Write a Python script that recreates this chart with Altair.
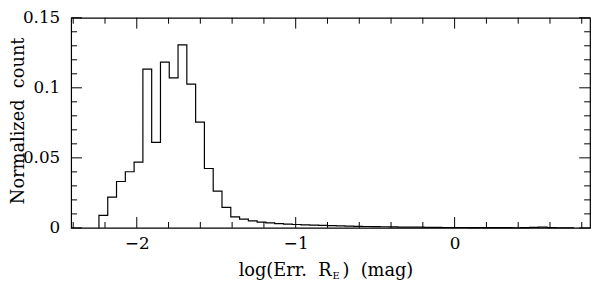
import altair as alt
import pandas as pd

# ---- data ----
bin_start = -2.238
bin_width = 0.0553
counts = [0.0089, 0.0219, 0.0331, 0.0401, 0.0470, 0.1133, 0.0611, 0.1183,
          0.1071, 0.1306, 0.1026, 0.0755, 0.0424, 0.0262, 0.0146, 0.0078,
          0.0062, 0.0050, 0.0041, 0.0036, 0.0030, 0.0027, 0.0024, 0.0022,
          0.0020, 0.0018, 0.0016, 0.0014, 0.0012, 0.0011, 0.0010, 0.0009,
          0.0008, 0.0007, 0.0006, 0.0005, 0.0005, 0.0004, 0.0004, 0.0003,
          0.0003, 0.0003, 0.0002, 0.0002, 0.0002, 0.0002, 0.0002, 0.0001,
          0.0002, 0.0004, 0.0005, 0.0002, 0.0001, 0.0001]
x_major = [-2, -1, 0]
x_minor = [-2.4, -2.2, -1.8, -1.6, -1.4, -1.2, -0.8, -0.6, -0.4, -0.2,
           0.2, 0.4, 0.6, 0.8]
y_major = [0, 0.05, 0.1, 0.15]
y_labels = ["0", "0.05", "0.1", "0.15"]
y_minor = [0.01, 0.02, 0.03, 0.04, 0.06, 0.07, 0.08, 0.09, 0.11, 0.12,
           0.13, 0.14]
x_title_parts = ["log(Err.\u00a0\u00a0R", "E", ")\u00a0\u00a0(mag)"]
y_title = "Normalized\u00a0\u00a0count"

FONT = "DejaVu Serif"
W, H = 526, 213
PAD_TOP = 8

edges = [bin_start + i * bin_width for i in range(len(counts) + 1)]
hist = pd.DataFrame({
    "x": [edges[0]] + edges[:-1] + [edges[-1]],
    "y": [0.0] + counts + [0.0],
})
hist["o"] = range(len(hist))

xscale = alt.Scale(domain=[-2.413, 0.852], nice=False, zero=False)
yscale = alt.Scale(domain=[0, 0.15], nice=False)

xaxis = alt.Axis(
    values=x_major, format="~g", ticks=False, domain=False, grid=False,
    labelFont=FONT, labelFontSize=17, labelColor="black",
    labelPadding=8, title=None)

line = alt.Chart(hist).mark_line(
    interpolate="step-after", color="black", strokeWidth=1.2
).encode(
    x=alt.X("x:Q", scale=xscale, axis=xaxis),
    y=alt.Y("y:Q", scale=yscale, axis=None),
    order="o:Q",
)


def xticks(vals, length):
    d = pd.DataFrame({"v": vals})
    bot = alt.Chart(d).mark_rule(color="black", strokeWidth=1).encode(
        x=alt.X("v:Q", scale=xscale, axis=xaxis),
        y=alt.value(H), y2=alt.value(H - length))
    top = alt.Chart(d).mark_rule(color="black", strokeWidth=1).encode(
        x=alt.X("v:Q", scale=xscale, axis=xaxis),
        y=alt.value(0), y2=alt.value(length))
    return [bot, top]


def yticks(vals, length):
    d = pd.DataFrame({"v": vals})
    left = alt.Chart(d).mark_rule(color="black", strokeWidth=1).encode(
        y=alt.Y("v:Q", scale=yscale, axis=None),
        x=alt.value(0), x2=alt.value(length))
    right = alt.Chart(d).mark_rule(color="black", strokeWidth=1).encode(
        y=alt.Y("v:Q", scale=yscale, axis=None),
        x=alt.value(W), x2=alt.value(W - length))
    return [left, right]


ylab_df = pd.DataFrame({"v": y_major, "t": y_labels})
ylabels = alt.Chart(ylab_df).mark_text(
    align="right", baseline="middle", font=FONT, fontSize=17, color="black"
).encode(y=alt.Y("v:Q", scale=yscale, axis=None), x=alt.value(-11),
         text="t:N")

ytdf = pd.DataFrame({"t": [y_title]})
ytitle = alt.Chart(ytdf).mark_text(
    align="center", baseline="top", angle=270, font=FONT, fontSize=18,
    color="black"
).encode(x=alt.value(-62), y=alt.value(H / 2 - 2), text="t:N")

tdf = pd.DataFrame({"a": [x_title_parts[0]], "b": [x_title_parts[1]],
                    "c": [x_title_parts[2]]})
TB = 278 - 8 - PAD_TOP  # title baseline, relative to plot top
t1 = alt.Chart(tdf).mark_text(align="right", baseline="alphabetic",
                              font=FONT, fontSize=18, color="black").encode(
    x=alt.value(264), y=alt.value(TB), text="a:N")
t2 = alt.Chart(tdf).mark_text(align="left", baseline="alphabetic",
                              font=FONT, fontSize=10, color="black").encode(
    x=alt.value(265), y=alt.value(TB + 3), text="b:N")
t3 = alt.Chart(tdf).mark_text(align="left", baseline="alphabetic",
                              font=FONT, fontSize=18, color="black").encode(
    x=alt.value(275), y=alt.value(TB), text="c:N")

layers = ([line] + xticks(x_major, 11) + xticks(x_minor, 6)
          + yticks(y_major, 11) + yticks(y_minor, 6)
          + [ylabels, ytitle, t1, t2, t3])

chart = alt.layer(*layers).properties(
    width=W, height=H,
    autosize=alt.AutoSizeParams(type="none"),
    padding={"left": 64, "top": PAD_TOP, "right": 2, "bottom": 57},
).configure_view(stroke="black", strokeWidth=1.2)

chart.save("out.html", embed_options={"renderer": "svg", "actions": False})
